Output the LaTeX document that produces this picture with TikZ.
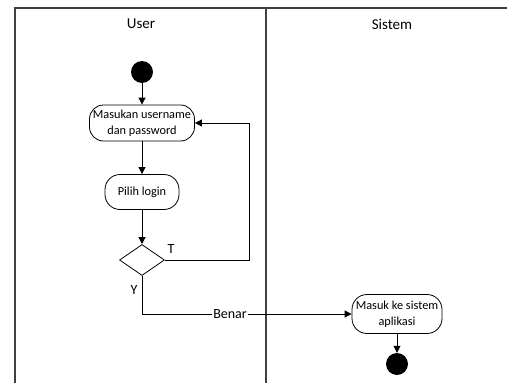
\documentclass[tikz,border=0pt]{standalone}
\usepackage{fontspec}
\setmainfont{Carlito}
\usetikzlibrary{arrows.meta,shapes.geometric}
\begin{document}
\begin{tikzpicture}[x=1pt,y=-1pt,
  lane/.style={draw=black!75, line width=1.3pt},
  act/.style={draw, line width=0.8pt, rounded corners=14pt, align=center, inner sep=0pt,
    font=\fontsize{12.3}{15.5}\selectfont},
  dot/.style={circle, fill=black, inner sep=0pt, minimum size=22pt},
  choice/.style={diamond, draw, line width=0.8pt, inner sep=0pt, minimum width=45pt, minimum height=31pt},
  arr/.style={line width=0.8pt, -{Triangle[length=7pt,width=7pt]}},
  lbl/.style={font=\fontsize{14}{16}\selectfont, inner sep=1pt},
  head/.style={font=\fontsize{15}{17}\selectfont}
]
\useasboundingbox (0,0) rectangle (507,383);

% swimlane frame
\draw[lane] (15,383) -- (15,8) -- (507,8);
\draw[lane] (266,8) -- (266,383);
\node[head] (hUser) at (141,24) {User};
\node[head] (hSistem) at (392,24) {Sistem};

% activities
\node[dot] (start) at (142,72) {};
\node[act, minimum width=105pt, minimum height=36pt] (b1) at (142,123) {Masukan username\\dan password};
\node[act, minimum width=74pt, minimum height=35pt, rounded corners=15pt] (b2) at (142,192) {Pilih login};
\node[choice] (dec) at (142,260) {};
\node[act, minimum width=90pt, minimum height=39pt, rounded corners=15pt] (b3) at (397,314) {Masuk ke sistem\\aplikasi};
\node[dot] (end) at (397,364) {};

\coordinate (tx) at (249,0);

% flows
\draw[arr] (start) -- (b1);
\draw[arr] (b1) -- (b2);
\draw[arr] (b2) -- (dec);
\draw[arr] (dec.east) -- (dec.east -| tx) |- (b1.east);
\draw[arr] (dec.south) |- (b3.west) node[pos=0.71, fill=white, lbl] (benar) {Benar};
\draw[arr] (b3) -- (end);

% guard labels
\node[lbl] (gT) at (171,249) {T};
\node[lbl] (gY) at (134,290) {Y};
\end{tikzpicture}
\end{document}
